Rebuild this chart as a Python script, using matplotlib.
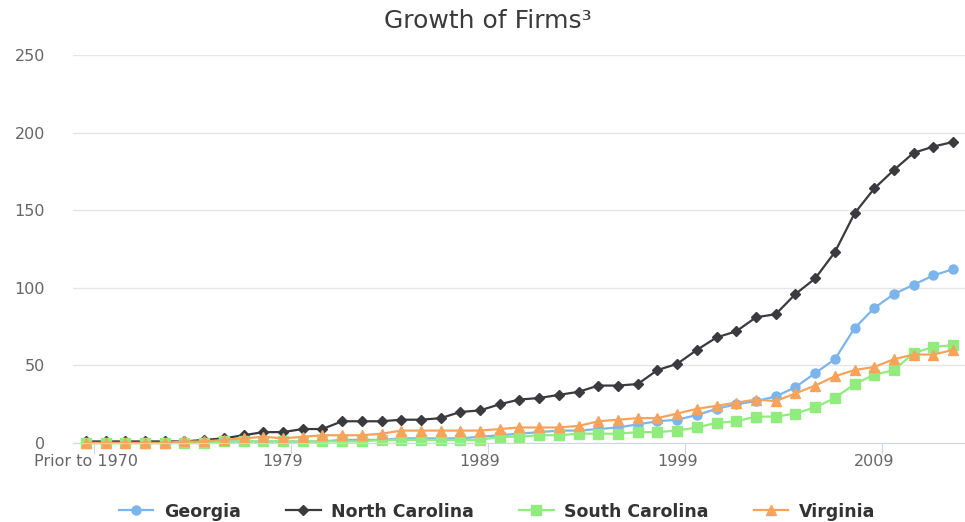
#!/usr/bin/env python3
import matplotlib
matplotlib.use("Agg")
import matplotlib.pyplot as plt

categories = ["Prior to 1970"] + [str(y) for y in range(1970, 2014)]

georgia = [0, 0, 0, 0, 0, 0, 0, 1, 1, 1, 1, 1, 1, 2, 2, 2, 3, 3, 3, 3, 4,
           5, 6, 7, 8, 8, 9, 10, 12, 14, 15, 18, 22, 25, 27, 30, 36, 45, 54,
           74, 87, 96, 102, 108, 112]
north_carolina = [1, 1, 1, 1, 1, 1, 2, 3, 5, 7, 7, 9, 9, 14, 14, 14, 15, 15,
                  16, 20, 21, 25, 28, 29, 31, 33, 37, 37, 38, 47, 51, 60, 68,
                  72, 81, 83, 96, 106, 123, 148, 164, 176, 187, 191, 194]
south_carolina = [0, 0, 0, 0, 0, 0, 0, 1, 1, 1, 1, 1, 1, 1, 1, 2, 2, 2, 2, 2,
                  2, 4, 4, 5, 5, 6, 6, 6, 7, 7, 8, 10, 13, 14, 17, 17, 19, 23,
                  29, 38, 44, 47, 58, 62, 63]
virginia = [0, 0, 0, 0, 0, 1, 1, 2, 3, 4, 3, 4, 5, 5, 5, 6, 8, 8, 8, 8, 8, 9,
            10, 10, 10, 11, 14, 15, 16, 16, 19, 22, 24, 26, 28, 27, 32, 37, 43,
            47, 49, 54, 57, 57, 60]

series = [
    ("Georgia", georgia, "#7cb5ec", "o", 6.5),
    ("North Carolina", north_carolina, "#3a3a3f", "D", 5.5),
    ("South Carolina", south_carolina, "#90ed7d", "s", 6.5),
    ("Virginia", virginia, "#f7a35c", "^", 7),
]

plt.rcParams["font.family"] = ["DejaVu Sans"]

fig = plt.figure(figsize=(9.65, 5.22), dpi=100)
ax = fig.add_axes([73 / 965, 1 - 443 / 522, 892 / 965, 388 / 522])

x = list(range(len(categories)))
for name, vals, color, marker, ms in series:
    ax.plot(x, vals, color=color, marker=marker, markersize=ms, linewidth=1.6,
            label=name, clip_on=False)

ax.set_xlim(-0.65, 44.6)
ax.set_ylim(0, 250)
ax.set_yticks([0, 50, 100, 150, 200, 250])
ax.grid(axis="y", color="#e6e6e6", linewidth=1)
ax.set_axisbelow(True)
for s in ["top", "right", "left"]:
    ax.spines[s].set_visible(False)
ax.spines["bottom"].set_color("#ccd6eb")

ax.tick_params(axis="y", length=0, pad=20, labelsize=11.5, labelcolor="#666666")
ax.set_xticks([0.4, 10.4, 20.4, 30.4, 40.4])
ax.set_xticklabels([])
ax.tick_params(axis="x", length=8, color="#ccd6eb")
ax.set_xticks([0, 10, 20, 30, 40], minor=True)
ax.set_xticklabels([categories[i] for i in [0, 10, 20, 30, 40]], minor=True)
ax.tick_params(axis="x", which="minor", length=0, pad=8, labelsize=11.5,
               labelcolor="#666666")

fig.text(0.505, 0.96, "Growth of Firms\u00b3", ha="center", va="center",
         fontsize=18, color="#3a3a3a")

fig.legend(loc="center", bbox_to_anchor=(0.515, 0.02), ncol=4, frameon=False,
           prop={"weight": "bold", "size": 12.5}, labelcolor="#333333",
           columnspacing=2.6, handlelength=2.0, handletextpad=0.6)

fig.savefig("out.png", dpi=100)
plt.close(fig)
